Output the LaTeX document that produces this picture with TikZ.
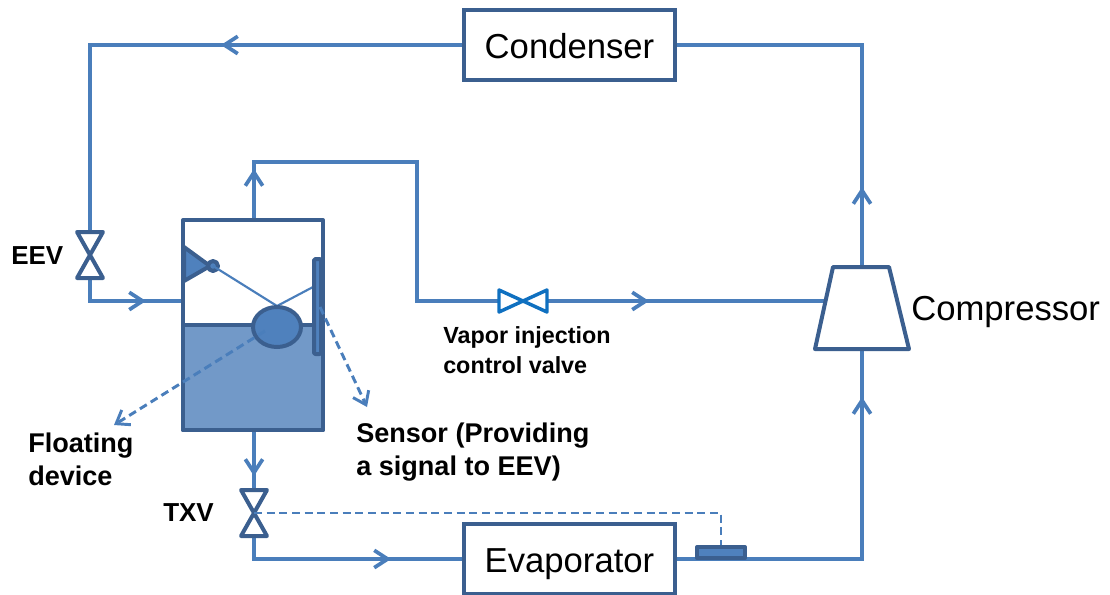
\documentclass[tikz,border=0pt]{standalone}
\usepackage{fontspec}
\setmainfont{Liberation Sans}
\usetikzlibrary{arrows.meta}
\definecolor{pipeblue}{HTML}{4A7EBB}
\definecolor{darkblue}{HTML}{3B5F8F}
\definecolor{liquidblue}{HTML}{7299C8}
\definecolor{fillblue}{HTML}{4F81BD}
\definecolor{valveblue}{HTML}{0F70C0}
\tikzset{
	pipe/.style={line width=2.8pt, pipeblue},
	flow/.style={pipe, -{Straight Barb[length=10pt, width=13pt, line width=2.8pt]}},
	tankline/.style={line width=3pt, darkblue, line join=round},
	unitbox/.style={draw=darkblue, line width=3pt, fill=white, minimum width=158pt, minimum height=52.5pt, inner sep=0pt, text height=20pt, text depth=0pt, font=\fontsize{26}{30}\selectfont},
	biglabel/.style={inner sep=0pt, text height=20pt, text depth=0pt, font=\fontsize{26}{30}\selectfont},
	boldlabel/.style={inner sep=0pt, align=left, anchor=west, font=\bfseries\fontsize{20.3}{25}\selectfont},
	smalllabel/.style={inner sep=0pt, align=left, anchor=west, font=\bfseries\fontsize{17.5}{22}\selectfont},
	signal/.style={dashed, dash pattern=on 6pt off 3.5pt, line width=2.2pt, pipeblue},
	pointer/.style={signal, -{Straight Barb[length=9pt, width=13pt, line width=2.2pt]}},
}
\begin{document}
\begin{tikzpicture}[x=0.75pt, y=-0.75pt]
	\useasboundingbox (0,0) rectangle (1110,594);

	\coordinate (topleft) at (90,45);
	\coordinate (topright) at (862,45);
	\coordinate (botright) at (862,559);
	\coordinate (eev) at (90,255);
	\coordinate (eevout) at (90,301);
	\coordinate (tankin) at (183,301);
	\coordinate (tanktop) at (254,220);
	\coordinate (tankbot) at (254,431);
	\coordinate (riser) at (254,162);
	\coordinate (riserr) at (417,162);
	\coordinate (injl) at (417,301);
	\coordinate (inj) at (523,301);
	\coordinate (compl) at (824,301);
	\coordinate (compt) at (862,267);
	\coordinate (compb) at (862,349);
	\coordinate (txv) at (254,513);
	\coordinate (txvout) at (254,559);
	\coordinate (bulbtop) at (721,513);

	% arrow marks on the pipes
	\coordinate (mark1) at (221,45);
	\coordinate (mark2) at (146,301);
	\coordinate (mark3) at (254,169);
	\coordinate (mark4) at (649,301);
	\coordinate (mark5) at (862,187);
	\coordinate (mark6) at (862,397);
	\coordinate (mark7) at (254,476);
	\coordinate (mark8) at (391,559);

	\node[unitbox] (condenser) at (569.5,45) {Condenser};
	\node[unitbox] (evaporator) at (569.5,559) {Evaporator};
	\node[biglabel, anchor=west] (compressor) at (911,307) {Compressor};

	\draw[pipe] (condenser.west) -- (topleft) -- (eev) -- (eevout) -- (tankin);
	\draw[pipe] (tanktop) -- (riser) -- (riserr) -- (injl) -- (inj) -- (compl);
	\draw[pipe] (condenser.east) -- (topright) -- (compt);
	\draw[pipe] (evaporator.east) -- (botright) -- (compb);
	\draw[pipe] (tankbot) -- (txv) -- (txvout) -- (evaporator.west);

	\draw[flow] (condenser.west) -- (mark1);
	\draw[flow] (eevout) -- (mark2);
	\draw[flow] (tanktop) -- (mark3);
	\draw[flow] (inj) -- (mark4);
	\draw[flow] (compt) -- (mark5);
	\draw[flow] (botright) -- (mark6);
	\draw[flow] (tankbot) -- (mark7);
	\draw[flow] (txvout) -- (mark8);

	% compressor
	\draw[tankline, fill=white] (833,267) -- (889,267) -- (909,349) -- (815,349) -- cycle;

	% tank
	\draw[tankline, fill=white] (183,220) rectangle (323,430);
	\draw[tankline, fill=liquidblue] (183,325) rectangle (323,430);
	\draw[tankline, fill=fillblue] (184,247) -- (210,266) -- (184,281) -- cycle;
	\draw[tankline, fill=fillblue] (213,266) circle (5);
	\draw[line width=1.6pt, pipeblue] (213,266) -- (277,306) -- (313,287);
	\draw[tankline, fill=fillblue] (277,327) ellipse (24 and 20);
	\draw[tankline, fill=fillblue, rounded corners=1pt] (314,259) rectangle (321,354);

	% valves
	\foreach \v in {eev,txv}{
		\filldraw[tankline, fill=white, shift={(\v)}] (-13,-23) -- (13,-23) -- (-13,23) -- (13,23) -- cycle;
	}
	\filldraw[line width=2.6pt, valveblue, fill=white, line join=round, shift={(inj)}] (-24,-11) -- (24,11) -- (24,-11) -- (-24,11) -- cycle;

	% sensing bulb
	\draw[signal] (txv) -- (bulbtop) -- ++(0,33);
	\draw[tankline, fill=fillblue] (697,547) rectangle (745,558);

	% dashed pointers
	\draw[pointer] (320,307) -- (367,407);
	\draw[pointer] (265,331) -- (114,425);

	\node[boldlabel] (eevlabel) at (11,256) {\fontsize{19.5}{25}\selectfont EEV};
	\node[boldlabel] (txvlabel) at (163,513) {\fontsize{19.5}{25}\selectfont TXV};
	\node[boldlabel] (floatlabel) at (28,459) {Floating\\device};
	\node[boldlabel] (sensorlabel) at (356,452) {Sensor (Providing\\a signal to EEV)};
	\node[smalllabel] (injlabel) at (443,350) {Vapor injection\\control valve};
\end{tikzpicture}
\end{document}
